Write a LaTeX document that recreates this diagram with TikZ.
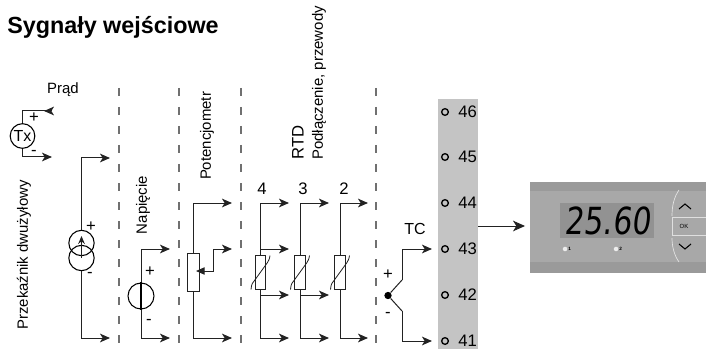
\documentclass[tikz,border=0pt]{standalone}
\usepackage{fontspec}
\setmainfont{Liberation Sans}
\newfontfamily\segfont[FakeSlant=0.15]{DejaVu Sans}
\usetikzlibrary{arrows.meta,calc}
\definecolor{dashc}{HTML}{707070}
\definecolor{wirec}{HTML}{222222}
\definecolor{stripc}{HTML}{C4C4C4}
\definecolor{bandc}{HTML}{9A9A9A}
\definecolor{facec}{HTML}{A8A8A8}
\definecolor{lcdc}{HTML}{929292}
\tikzset{
  wire/.style={draw=wirec,line width=0.75pt},
  arr/.style={wire,-{Stealth[length=7.5pt,width=6.5pt,inset=2pt]}},
  wiper/.style={wire,{Stealth[length=6.5pt,width=5.5pt,inset=0pt]}-{Stealth[length=7.5pt,width=6.5pt,inset=2pt]}},
  sep/.style={draw=dashc,line width=0.8pt,dash pattern=on 6pt off 8.25pt},
  lbl/.style={inner sep=0pt,text=black,font=\fontsize{11.2}{13}\selectfont},
  vlbl/.style={lbl,rotate=90},
  pm/.style={lbl,font=\fontsize{12.5}{13}\selectfont},
  term/.style={circle,draw=black,line width=1pt,minimum size=5pt,inner sep=0pt},
  tnum/.style={inner sep=0pt,anchor=west,font=\fontsize{12.5}{14}\selectfont},
  digit/.style={lbl,font=\fontsize{12.5}{14}\selectfont},
  rtdbox/.style={draw=wirec,line width=0.8pt,fill=white,minimum width=8pt,minimum height=25pt,inner sep=0pt},
  src/.style={circle,draw=black,line width=0.8pt,minimum size=19pt,inner sep=0pt},
  slash/.style={draw=wirec,line width=0.6pt},
  chev/.style={draw=black,line width=0.8pt},
  tiny/.style={inner sep=0pt,font=\fontsize{3.5}{4}\selectfont\bfseries},
  led/.style={circle,fill=white!85!gray,minimum size=3.4pt,inner sep=0pt}
}
\begin{document}
\begin{tikzpicture}[x=0.75pt,y=-0.75pt]
\useasboundingbox (0,0) rectangle (706,349);
% title
\node[inner sep=0pt,anchor=west,font=\fontsize{17.5}{20}\selectfont\bfseries] (title) at (7,27) {Sygnały wejściowe};
% separators
\foreach \n/\x in {s1/119,s2/179,s3/241,s4/376}{
  \coordinate (\n a) at (\x,88); \coordinate (\n b) at (\x,346);
  \draw[sep] (\n a) -- (\n b);
}
% labels
\node[lbl] (prad) at (63,90) {Prąd};
\node[vlbl] (przek) at (24,255) {Przekaźnik dwużyłowy};
\node[vlbl] (nap) at (143,205) {Napięcie};
\node[vlbl] (pot) at (207,136) {Potencjometr};
\node[vlbl,anchor=west,font=\fontsize{12.5}{14}\selectfont] (rtd) at (298,160) {RTD};
\node[vlbl,anchor=west] (pod) at (319,160) {Podłączenie, przewody};
\node[digit] (n4) at (262,189) {4};
\node[digit] (n3) at (303,189) {3};
\node[digit] (n2) at (344,189) {2};
\node[lbl,font=\fontsize{12}{14}\selectfont] (tc) at (415,229) {TC};
% Tx
\node[src,minimum size=18.5pt,font=\fontsize{12}{13}\selectfont] (tx) at (22.5,136) {Tx};
\coordinate (txp) at (52,111); \coordinate (txm) at (52,157);
\draw[wire] (tx.north) |- (txp);
\path[arr] (txp) -- (44,111);
\draw[arr] (tx.south) |- (txm);
\node[pm] at (34,118) {+};
\node[pm] at (34,153) {-};
% current source
\node[src] (c1) at (81.5,243) {};
\node[src] (c2) at (81.5,258) {};
\coordinate (cp) at (110,158); \coordinate (cm) at (110,338);
\draw[arr] (c1.north) |- (cp);
\draw[arr] (c2.south) |- (cm);
\draw[wire,-{Stealth[length=6pt,width=5pt]}] (c2.center) -- (81.5,236);
\node[pm] at (91,227) {+};
\node[pm] at (90,275) {-};
% voltage source
\node[src,minimum size=19.5pt] (v) at (141,296) {};
\coordinate (vp) at (170,249); \coordinate (vm) at (170,338);
\draw[arr] (v.north) |- (vp);
\draw[arr] (v.south) |- (vm);
\draw[draw=black,line width=1.5pt] (v.north) -- (v.south);
\node[pm] at (150,272) {+};
\node[pm] at (149,322) {-};
% potentiometer
\node[rtdbox,minimum height=28pt,minimum width=8.5pt,line width=0.9pt] (p) at (193.5,272.5) {};
\coordinate (pp) at (232,203); \coordinate (pw) at (232,249); \coordinate (pm1) at (232,338);
\draw[arr] (p.north) |- (pp);
\draw[arr] (p.south) |- (pm1);
\draw[wiper] (196,271) -- (213,271) -- (213,249) -- (pw);
% RTD
\foreach \n/\x/\e in {a/260.5/289,b/300/329,c/340/368}{
  \node[rtdbox] (r\n) at (\x,272.5) {};
  \coordinate (r\n t) at (\e,203); \coordinate (r\n b) at (\e,338);
  \draw[arr] (r\n.north) |- (r\n t);
  \draw[arr] (r\n.south) |- (r\n b);
  \draw[slash] ($(r\n.center)+(-9.5,17)$) .. controls ($(r\n.center)+(-9,11.5)$) and ($(r\n.center)+(-8,10)$) .. ($(r\n.center)+(-6,8)$) -- ($(r\n.center)+(7,-10)$) .. controls ($(r\n.center)+(8,-12)$) and ($(r\n.center)+(9,-13)$) .. ($(r\n.center)+(9.5,-17)$);
}
\coordinate (ra1) at (289,249); \coordinate (ra2) at (289,295); \coordinate (rb1) at (329,295);
\draw[arr] (ra.center |- ra1) -- (ra1);
\draw[arr] (ra.center |- ra2) -- (ra2);
\draw[arr] (rb.center |- rb1) -- (rb1);
% strip
\node[fill=stripc,inner sep=0pt,minimum width=30pt,minimum height=187.5pt,anchor=north west] (strip) at (438,99) {};
\foreach \t/\y in {46/112,45/157,44/203,43/249,42/295,41/341}{
  \node[term] (t\t) at (445,\y) {};
  \node[tnum] at (458,\y) {\t};
}
% thermocouple
\node[circle,fill=black,minimum size=5.5pt,inner sep=0pt] (j) at (388,295.5) {};
\coordinate (ju) at (402,280); \coordinate (jd) at (402,311);
\coordinate (e43) at (432,249); \coordinate (e41) at (432,341);
\draw[wire] (j) -- (ju);
\draw[wire] (j) -- (jd);
\draw[arr] (ju) |- (e43);
\draw[arr] (jd) |- (e41);
\node[pm] at (388,275) {+};
\node[pm] at (388,315) {-};
% display
\node[fill=bandc,inner sep=0pt,minimum width=132pt,minimum height=68pt,anchor=north west] (dev) at (530,182) {};
\fill[facec] (530,191) rectangle (706,262);
\node[fill=lcdc,inner sep=0pt,minimum width=70.5pt,minimum height=26pt,anchor=north west] (lcd) at (560,203) {};
\node[inner sep=0pt,font=\segfont\fontsize{28}{30}\selectfont,text=black,xscale=0.8] at (lcd.center) {25.60};
\draw[draw=white!80!gray,line width=0.5pt] (679,190) .. controls (674,197) and (672,206) .. (672,216);
\draw[draw=white!80!gray,line width=0.5pt] (679,262) .. controls (674,255) and (672,246) .. (672,238);
\node[draw=white!75!gray,line width=0.5pt,fill=facec,inner sep=0pt,minimum width=30pt,minimum height=13.5pt,anchor=west] (ok) at (672,226.5) {};
\node[inner sep=0pt,font=\fontsize{4.5}{5}\selectfont] at (684,226.5) {OK};
\draw[chev] (679,209) -- (685,204) -- (691,209);
\draw[chev] (679,244) -- (685,249) -- (691,244);
\node[led] (l1) at (565,249) {}; \node[tiny,anchor=west] at (568,249) {1};
\node[led] (l2) at (616,249) {}; \node[tiny,anchor=west] at (619,249) {2};
% output arrow
\coordinate (oa) at (478,226); \coordinate (ob) at (525,226);
\draw[wire,-{Stealth[length=9pt,width=8pt,inset=2.5pt]}] (oa) -- (ob);
\end{tikzpicture}
\end{document}
